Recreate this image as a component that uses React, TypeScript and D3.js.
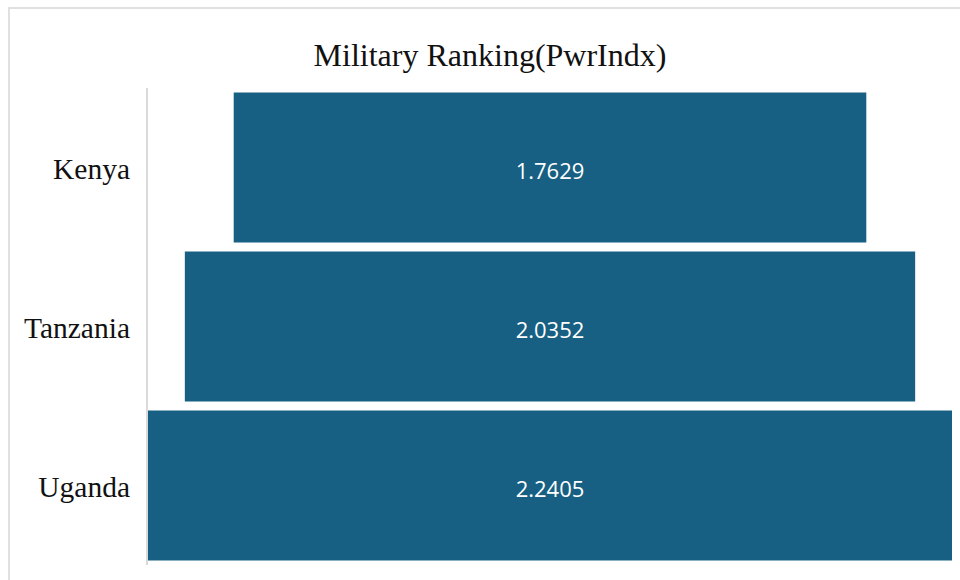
import React from "react";
import * as d3 from "d3";

const categories = ["Kenya", "Tanzania", "Uganda"];
const values = [1.7629, 2.0352, 2.2405];
const title = "Military Ranking(PwrIndx)";

export default function App() {
  const W = 960, H = 580;
  const centerX = 550;
  const maxHalf = 402;
  const x = d3.scaleLinear().domain([0, d3.max(values) as number]).range([0, maxHalf * 2]);
  const y = d3.scaleBand<string>().domain(categories).range([88, 565]).paddingInner(0.0566).paddingOuter(0.0283);
  const serif = "'Liberation Serif', 'Times New Roman', serif";
  return (
    <svg width={W} height={H} style={{ position: "absolute", left: 0, top: 0, background: "#fff" }}>
      <rect x={9} y={8} width={W + 20} height={H + 20} fill="none" stroke="#e0e0e0" strokeWidth={2} />
      <text x={490} y={66} textAnchor="middle" fontFamily={serif} fontSize={32} fill="#111">{title}</text>
      <line x1={147} x2={147} y1={88} y2={565} stroke="#dadada" strokeWidth={2} />
      {categories.map((c, i) => {
        const w = x(values[i]);
        const yy = y(c) as number;
        const bh = y.bandwidth();
        const cy = yy + bh / 2;
        return (
          <g key={c}>
            <rect x={centerX - w / 2} y={yy} width={w} height={bh} fill="#176083" />
            <text x={130} y={cy + 11} textAnchor="end" fontFamily={serif} fontSize={29.5} fill="#111">{c}</text>
            <text x={centerX} y={cy + 11} textAnchor="middle" fontFamily="'Open Sans', sans-serif" fontSize={22} fill="#fff">{values[i].toFixed(4)}</text>
          </g>
        );
      })}
    </svg>
  );
}
